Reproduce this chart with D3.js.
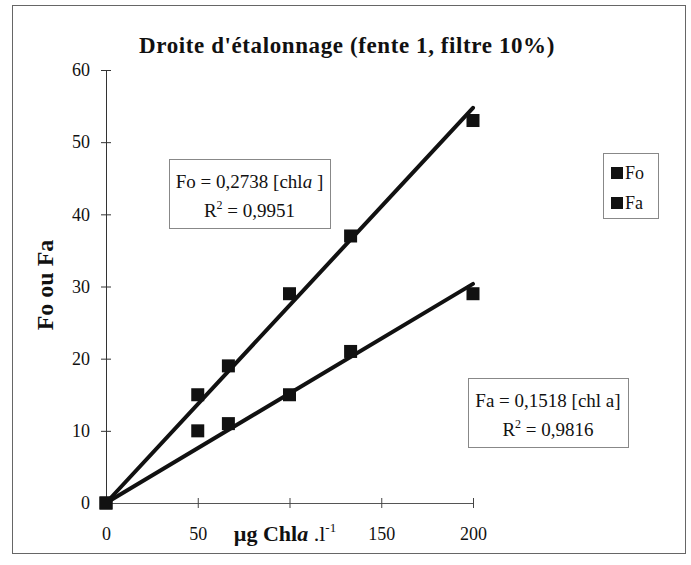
<!DOCTYPE html>
<html>
<head>
<meta charset="utf-8">
<script src="https://cdn.jsdelivr.net/npm/d3@7"></script>
<style>
  body { margin: 0; background: #fff; }
  text { font-family: "Liberation Serif", "Times New Roman", serif; fill: #111; }
</style>
</head>
<body>
<div id="chart"></div>
<script>
// data
const concentrations = [0, 50, 66.7, 100, 133.3, 200];
const foValues = [0, 15, 19, 29, 37, 53];
const faValues = [0, 10, 11, 15, 21, 29];
const seriesNames = ['Fo', 'Fa'];
const slopes = [0.2738, 0.1518];
const r2Values = ['0,9951', '0,9816'];
const xTicks = [0, 50, 100, 150, 200];
const xTickLabels = ['0', '50', '', '150', '200']; // 100 sits under the axis title
const yTicks = [0, 10, 20, 30, 40, 50, 60];

const width = 691, height = 565;

const svg = d3.select('#chart').append('svg')
    .attr('width', width)
    .attr('height', height);

// outer frame
svg.append('rect')
    .attr('x', 12.5).attr('y', 5.5)
    .attr('width', 673).attr('height', 548)
    .attr('fill', 'none')
    .attr('stroke', '#666')
    .attr('stroke-width', 1);

const x = d3.scaleLinear([0, 200], [106, 473]);
const y = d3.scaleLinear([0, 60], [503, 70]);

// title
svg.append('text')
    .attr('x', 347).attr('y', 53)
    .attr('text-anchor', 'middle')
    .attr('font-size', 23)
    .attr('font-weight', 'bold')
    .attr('letter-spacing', 0.6)
    .text("Droite d'étalonnage (fente 1, filtre 10%)");

// y axis
const axisY = svg.append('g')
    .attr('transform', `translate(${x(0)},0)`)
    .call(d3.axisLeft(y).tickValues(yTicks).tickSize(5).tickPadding(11).tickFormat(d3.format('d')));
axisY.select('.domain').attr('stroke', '#333');
axisY.selectAll('.tick line').attr('x2', 5).attr('x1', -5).attr('stroke', '#333');
axisY.selectAll('.tick text')
    .attr('font-size', 18)
    .attr('fill', '#222');

// x axis
const axisX = svg.append('g')
    .attr('transform', `translate(0,${y(0)})`)
    .call(d3.axisBottom(x).tickValues(xTicks).tickSize(5).tickPadding(19)
        .tickFormat((d, i) => xTickLabels[i]));
axisX.select('.domain').attr('stroke', '#555');
axisX.selectAll('.tick line').attr('y1', -5).attr('y2', 5).attr('stroke', '#444');
axisX.selectAll('.tick text')
    .attr('font-size', 18)
    .attr('fill', '#222');

// axis titles
svg.append('text')
    .attr('transform', 'translate(53,285) rotate(-90)')
    .attr('text-anchor', 'middle')
    .attr('font-size', 24)
    .attr('font-weight', 'bold')
    .text('Fo ou Fa');

const xTitle = svg.append('text')
    .attr('x', 285).attr('y', 541)
    .attr('text-anchor', 'middle')
    .attr('font-size', 22)
    .attr('font-weight', 'bold');
xTitle.append('tspan').text('µg Chl');
xTitle.append('tspan').attr('font-style', 'italic').text('a');
xTitle.append('tspan').attr('font-weight', 'normal').text(' .l');
xTitle.append('tspan').attr('font-weight', 'normal').attr('font-size', 13).attr('dy', -9).text('-1');

// regression lines
const fits = seriesNames.map((name, i) => ({ name, slope: slopes[i] }));
svg.selectAll('line.fit')
    .data(fits)
    .join('line')
    .classed('fit', true)
    .attr('x1', x(0)).attr('y1', y(0))
    .attr('x2', x(200))
    .attr('y2', d => y(d.slope * 200))
    .attr('stroke', '#111')
    .attr('stroke-width', 4)
    .attr('stroke-linecap', 'round');

// markers
const points = [];
concentrations.forEach((c, i) => {
    points.push({ c, v: foValues[i] });
    points.push({ c, v: faValues[i] });
});
const ms = 13;
svg.selectAll('rect.pt')
    .data(points)
    .join('rect')
    .classed('pt', true)
    .attr('x', d => x(d.c) - ms / 2)
    .attr('y', d => y(d.v) - ms / 2)
    .attr('width', ms).attr('height', ms)
    .attr('fill', '#111');

// equation boxes
const eqBoxes = [
    { x: 169, y: 159, w: 161, h: 69, label: 'Fo = 0,2738 [chl', italic: 'a', tail: ' ]', r2: r2Values[0] },
    { x: 468, y: 378, w: 160, h: 69, label: 'Fa = 0,1518 [chl a]', italic: '', tail: '', r2: r2Values[1] }
];
eqBoxes.forEach(b => {
    const g = svg.append('g');
    g.append('rect')
        .attr('x', b.x + 0.5).attr('y', b.y + 0.5)
        .attr('width', b.w).attr('height', b.h)
        .attr('fill', '#fff')
        .attr('stroke', '#888');
    const t1 = g.append('text')
        .attr('x', b.x + b.w / 2).attr('y', b.y + 29)
        .attr('text-anchor', 'middle')
        .attr('font-size', 19);
    t1.append('tspan').text(b.label);
    if (b.italic) t1.append('tspan').attr('font-style', 'italic').text(b.italic);
    if (b.tail) t1.append('tspan').text(b.tail);
    const t2 = g.append('text')
        .attr('x', b.x + b.w / 2).attr('y', b.y + 58)
        .attr('text-anchor', 'middle')
        .attr('font-size', 19);
    t2.append('tspan').text('R');
    t2.append('tspan').attr('font-size', 12).attr('dy', -8).text('2');
    t2.append('tspan').attr('dy', 8).text(' = ' + b.r2);
});

// legend
const legend = svg.append('g').attr('transform', 'translate(603,153)');
legend.append('rect')
    .attr('x', 0.5).attr('y', 0.5)
    .attr('width', 55).attr('height', 65)
    .attr('fill', '#fff')
    .attr('stroke', '#888');
const items = legend.selectAll('g.item')
    .data(seriesNames)
    .join('g')
    .classed('item', true)
    .attr('transform', (d, i) => `translate(8,${20 + i * 30})`);
items.append('rect')
    .attr('x', 0).attr('y', -6)
    .attr('width', 12).attr('height', 12)
    .attr('fill', '#111');
items.append('text')
    .attr('x', 14).attr('y', 6)
    .attr('font-size', 18)
    .text(d => d);
</script>
</body>
</html>
